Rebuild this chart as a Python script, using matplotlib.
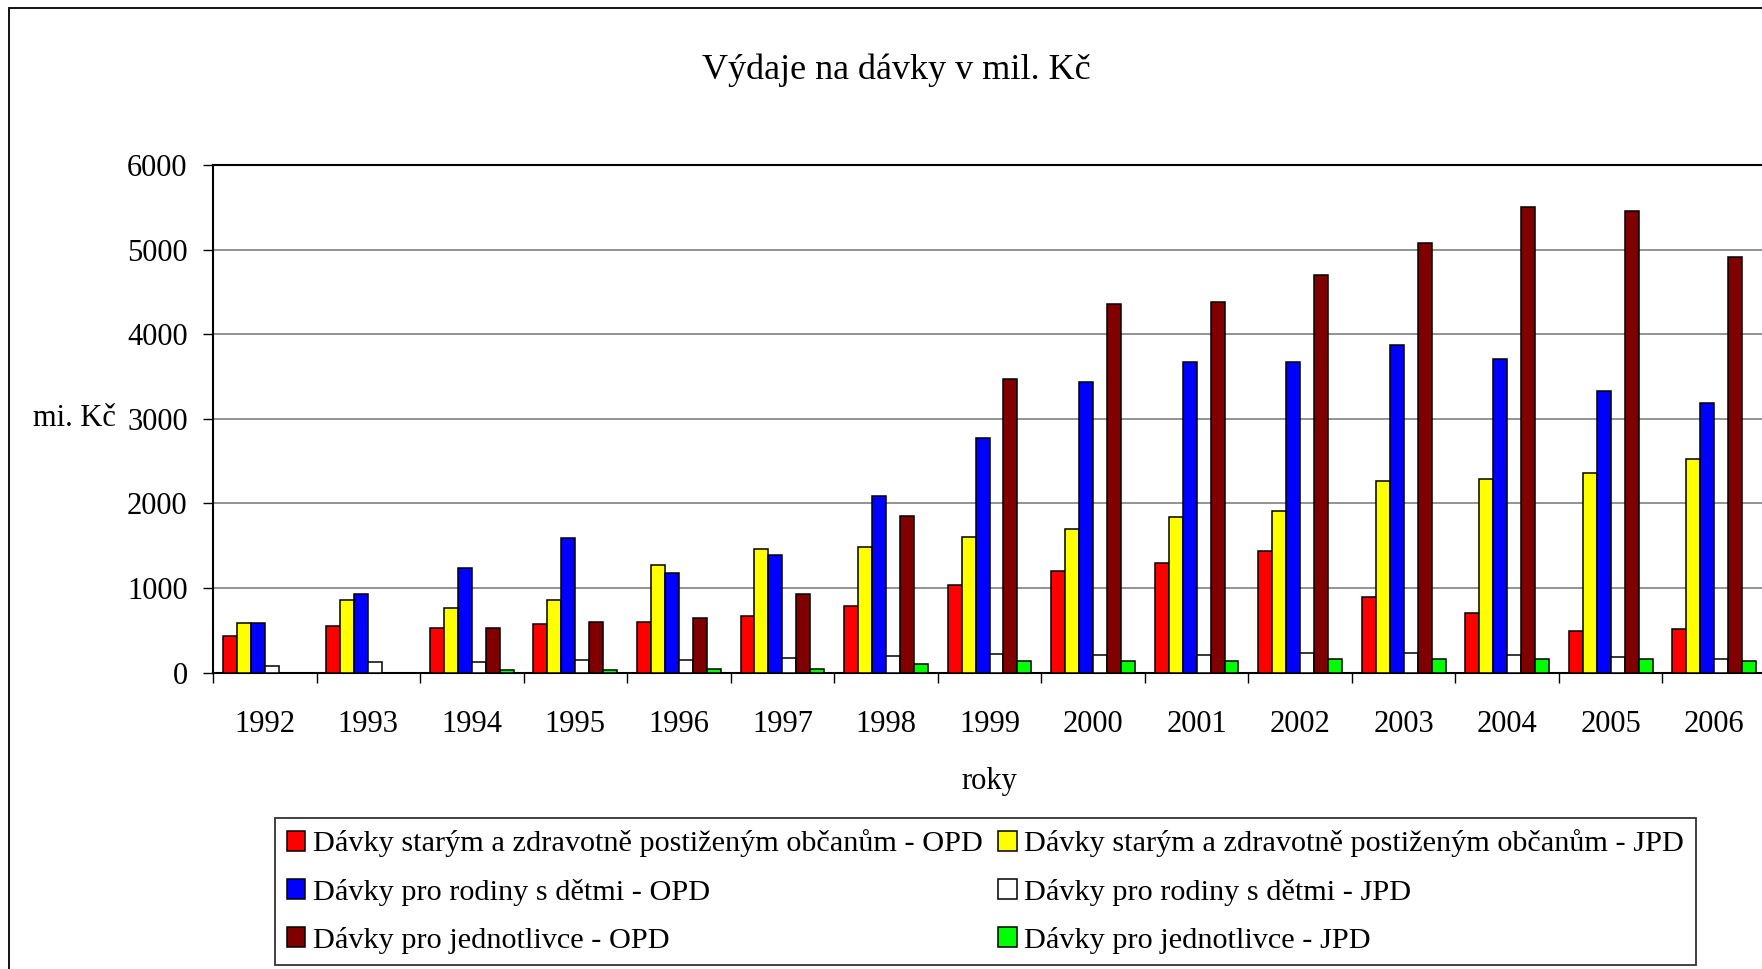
import numpy as np
import matplotlib
matplotlib.use("Agg")
import matplotlib.pyplot as plt
from matplotlib.patches import Rectangle

plt.rcParams['font.family'] = ['Liberation Serif', 'DejaVu Serif']

years = ['1992', '1993', '1994', '1995', '1996', '1997', '1998', '1999',
         '2000', '2001', '2002', '2003', '2004', '2005', '2006']

# mil. Kč
stari_opd = [428, 550, 523, 570, 594, 665, 783, 1039, 1200, 1295, 1437, 892, 707, 495, 519]
stari_jpd = [589, 854, 760, 854, 1276, 1465, 1489, 1607, 1698, 1840, 1911, 2267, 2293, 2357, 2525]
rodiny_opd = [589, 925, 1233, 1588, 1181, 1394, 2089, 2767, 3432, 3669, 3669, 3875, 3708, 3332, 3188]
rodiny_jpd = [73, 120, 120, 144, 144, 168, 192, 213, 201, 201, 229, 232, 208, 184, 164]
jednotl_opd = [np.nan, np.nan, 523, 594, 641, 925, 1849, 3471, 4352, 4375, 4700, 5075, 5501, 5453, 4914]
jednotl_jpd = [np.nan, np.nan, 26, 25, 45, 45, 95, 137, 132, 132, 154, 160, 160, 160, 132]

labels = ['Dávky starým a zdravotně postiženým občanům - OPD',
          'Dávky starým a zdravotně postiženým občanům - JPD',
          'Dávky pro rodiny s dětmi - OPD',
          'Dávky pro rodiny s dětmi - JPD',
          'Dávky pro jednotlivce - OPD',
          'Dávky pro jednotlivce - JPD']
colors = ['#ff0000', '#ffff00', '#0000ff', '#ffffff', '#800000', '#00ff00']
series = [stari_opd, stari_jpd, rodiny_opd, rodiny_jpd, jednotl_opd, jednotl_jpd]

fig = plt.figure(figsize=(17.62, 9.69), dpi=100)
ax = fig.add_axes([213 / 1762, 1 - 672.5 / 969, 1553 / 1762, 507.5 / 969])

x = np.arange(len(years))
w = 0.135
bars = []
for k, (vals, col, lab) in enumerate(zip(series, colors, labels)):
    b = ax.bar(x + (k - 2.5) * w, vals, w, color=col, edgecolor='black',
               linewidth=1.1, label=lab, zorder=3)
    bars.append(b)

ax.set_xlim(-0.5, len(years) - 0.5)
ax.set_ylim(0, 6000)
ax.set_yticks(np.arange(0, 6001, 1000))
ax.yaxis.grid(True, color='#808080', linewidth=1.2, zorder=0)
ax.tick_params(axis='y', direction='out', length=7.2, width=1, labelsize=22, pad=11)

ax.set_xticks(x)
ax.set_xticklabels(years)
ax.set_xticks(np.arange(-0.5, len(years), 1), minor=True)
ax.tick_params(axis='x', which='major', length=0, labelsize=22, pad=27)
ax.tick_params(axis='x', which='minor', direction='out', length=7, width=1)

for s in ax.spines.values():
    s.set_color('black')
    s.set_linewidth(1.5)

ax.set_ylabel('mi. Kč', rotation=0, fontsize=22, ha='right', va='center')
ax.yaxis.set_label_coords(-0.0625, 0.5)
ax.set_xlabel('roky', fontsize=22, va='center')
ax.xaxis.set_label_coords(0.5, -0.2148)

fig.text(896 / 1762, 1 - 70.5 / 969, 'Výdaje na dávky v mil. Kč', fontsize=26,
         ha='center', va='center')

# legend is filled row by row in the original
order = [0, 2, 4, 1, 3, 5]
leg = fig.legend([bars[i] for i in order], [labels[i] for i in order],
                 ncol=2, loc='upper left', bbox_to_anchor=(275 / 1762, 1 - 818 / 969),
                 fontsize=21.8, frameon=True, fancybox=False, shadow=False,
                 edgecolor='black', borderpad=0.38, labelspacing=0.7,
                 handlelength=0.62, handleheight=0.62, handletextpad=0.25,
                 columnspacing=0.5, borderaxespad=0)
leg.get_frame().set_linewidth(1.3)

# outer chart border (only left and top visible in the crop)
fig.patches.append(Rectangle((9 / 1762, -0.1), 2.0, 1.1 - 8 / 969,
                             transform=fig.transFigure, fill=False,
                             edgecolor='black', linewidth=1.3))

fig.savefig('out.png', dpi=100)
